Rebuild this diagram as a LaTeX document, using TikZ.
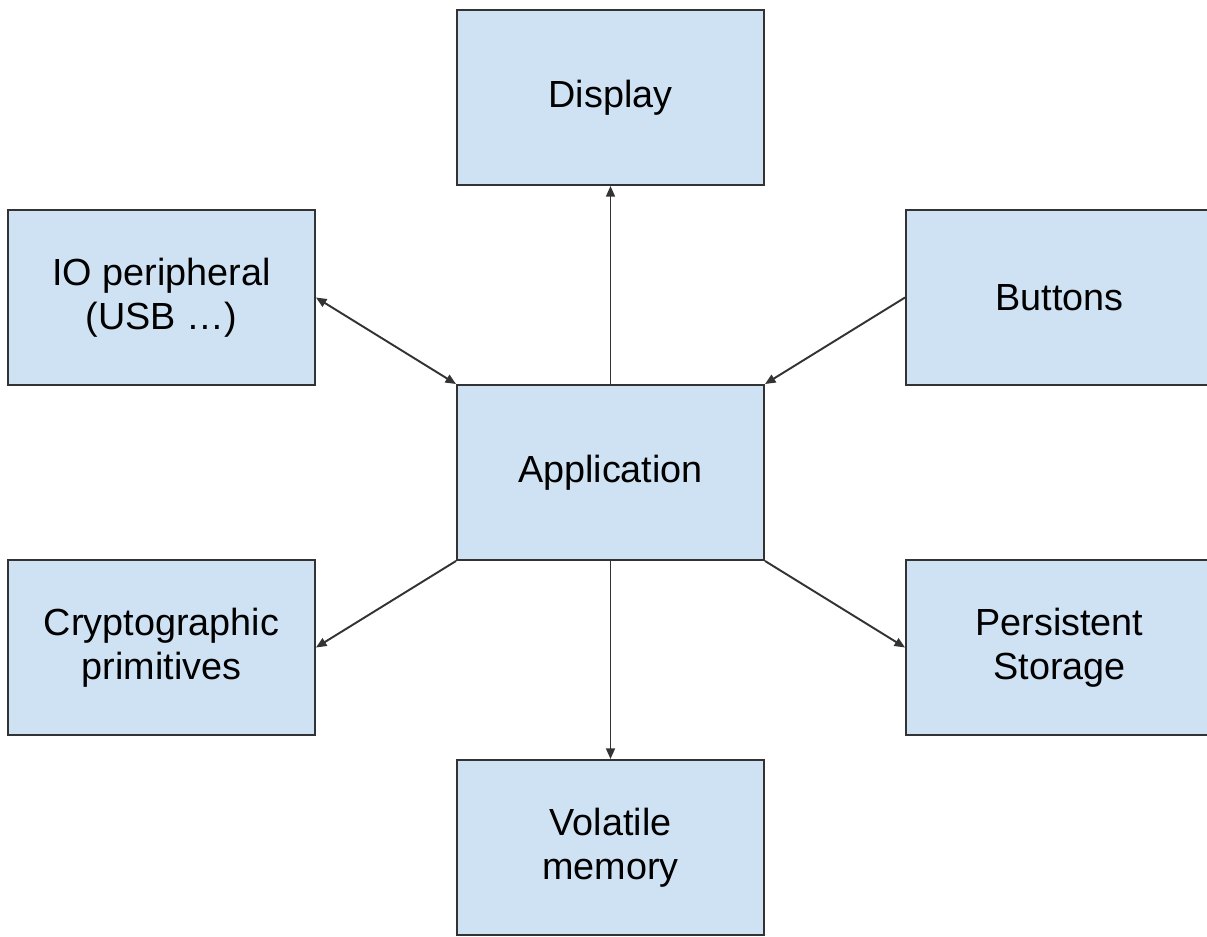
\documentclass[tikz,border=0pt]{standalone}
\usepackage{fontspec}
\setmainfont{Liberation Sans}
\usepackage{tikz}
\usetikzlibrary{arrows.meta}
\definecolor{boxblue}{HTML}{CFE2F3}
\definecolor{edgegray}{HTML}{333333}

\begin{document}
\begin{tikzpicture}[every node/.style={font=\fontsize{21.5}{25}\selectfont}, blk/.style={draw=edgegray, line width=1.1pt, fill=boxblue, minimum width=6.14cm, minimum height=3.5cm, inner sep=0pt, align=center}, conn/.style={draw=edgegray, line width=1.1pt, -{Triangle[length=6pt,width=5pt]}}]
	\useasboundingbox (0,0) rectangle (24.14,18.72);
	\node[blk] (app) at (12.21,9.27) {Application};
	\node[blk] (disp) at (12.21,16.77) {Display};
	\node[blk] (io) at (3.23,12.77) {IO peripheral\\(USB …)};
	\node[blk] (btn) at (21.19,12.77) {Buttons};
	\node[blk] (crypto) at (3.23,5.77) {Cryptographic\\primitives};
	\node[blk] (store) at (21.19,5.77) {Persistent\\Storage};
	\node[blk] (mem) at (12.21,1.77) {Volatile\\memory};
	\foreach \a/\b in {app.north/disp.south, btn.west/app.north east, app.south west/crypto.east, app.south east/store.west, app.south/mem.north} {\draw[conn] (\a) -- (\b);}
	\draw[conn, {Triangle[length=6pt,width=5pt]}-{Triangle[length=6pt,width=5pt]}] (io.east) -- (app.north west);
\end{tikzpicture}
\end{document}
